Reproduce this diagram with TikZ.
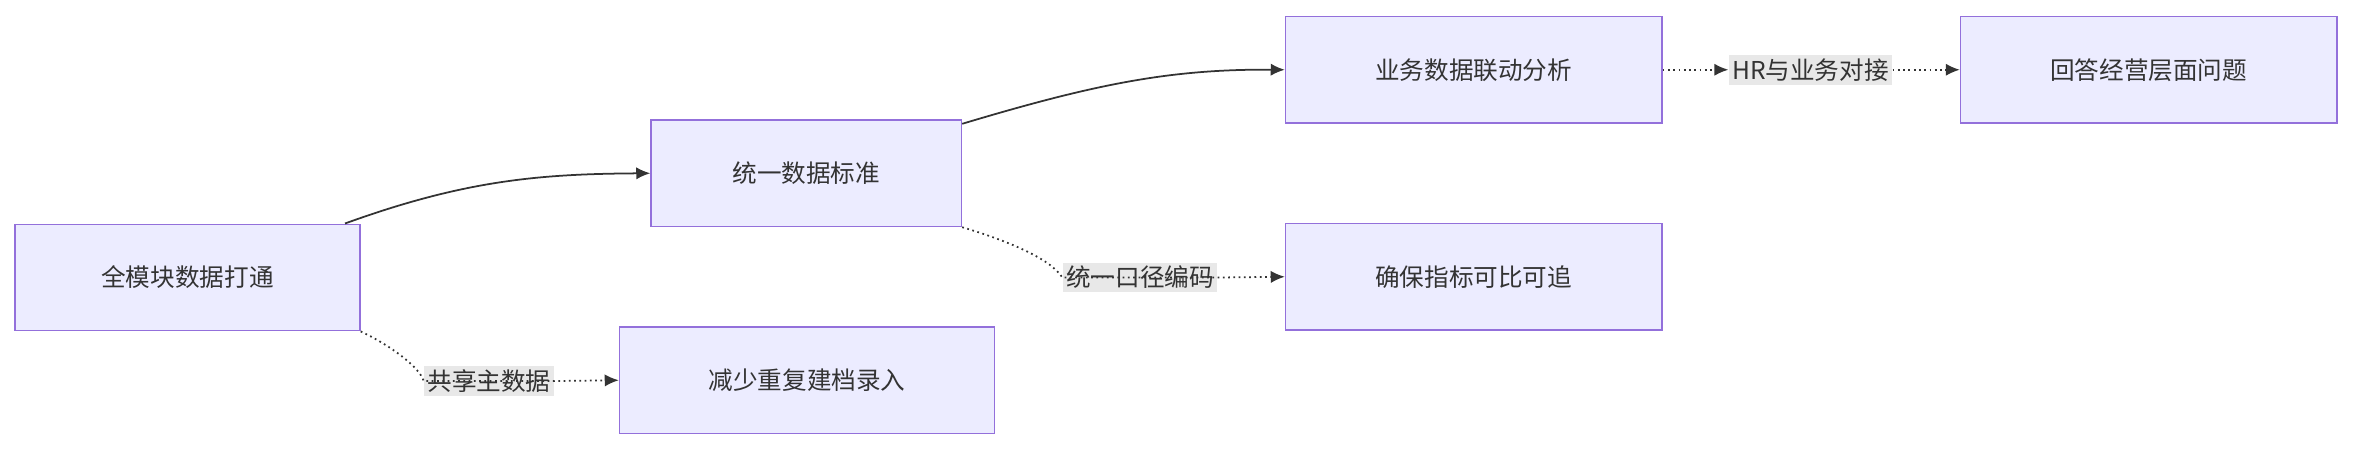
\documentclass[tikz,border=0pt]{standalone}
\usepackage{fontspec}
\newfontfamily\cjk{Noto Sans CJK SC}
\usetikzlibrary{arrows.meta}
\definecolor{nfill}{HTML}{ECECFF}
\definecolor{nline}{HTML}{9370DB}
\definecolor{lbl}{HTML}{E8E8E8}
\definecolor{edge}{HTML}{333333}
\begin{document}
\begin{tikzpicture}[x=0.03cm,y=-0.03cm,
  box/.style={draw=nline,fill=nfill,line width=0.8pt,minimum height=71*0.03cm,font=\cjk\fontsize{14}{16}\selectfont,text=edge},
  elbl/.style={fill=lbl,inner sep=2pt,font=\cjk\fontsize{14}{16}\selectfont,text=edge},
  solidedge/.style={draw=edge,line width=1pt,-{Latex[length=8pt,width=7pt]}},
  dotedge/.style={draw=edge,line width=1pt,dotted,-{Latex[length=8pt,width=7pt]}}]
\useasboundingbox (0,0) rectangle (1570,301);
\node[box,minimum width=230*0.03cm] (A) at (125,185) {全模块数据打通};
\node[box,minimum width=207*0.03cm] (B) at (537.5,115.5) {统一数据标准};
\node[box,minimum width=250*0.03cm] (C) at (538,253.5) {减少重复建档录入};
\node[box,minimum width=251*0.03cm] (D) at (982.5,46.5) {业务数据联动分析};
\node[box,minimum width=251*0.03cm] (E) at (982.5,184.5) {确保指标可比可追};
\node[box,minimum width=251*0.03cm] (F) at (1432.5,46.5) {回答经营层面问题};
\draw[solidedge] (230,149) .. controls (310,120) and (360,116) .. (B.west);
\draw[solidedge] (B.north east) ++(0,3) .. controls (730,56) and (780,46) .. (D.west);
\node[elbl] (l1) at (326,254) {共享主数据};
\draw[dotedge] (A.south east) .. controls (260,230) and (280,245) .. (l1.west) -- (l1.east) -- (C.west);
\node[elbl] (l2) at (760,185) {统一口径编码};
\draw[dotedge] (B.south east) .. controls (670,160) and (700,172) .. (l2.west) -- (l2.east) -- (E.west);
\node[elbl] (l3) at (1207,46.5) {HR与业务对接};
\draw[dotedge] (D.east) -- (l3.west);
\draw[dotedge] (l3.east) -- (F.west);
\end{tikzpicture}
\end{document}
